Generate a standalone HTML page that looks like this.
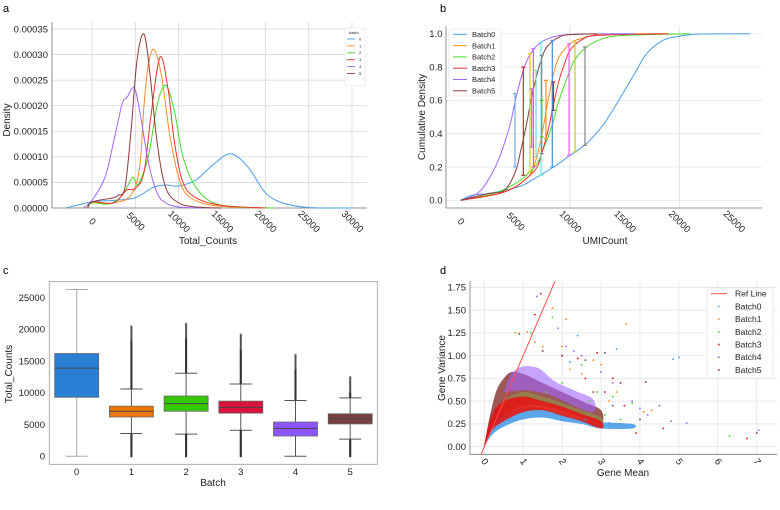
<!DOCTYPE html>
<html><head><meta charset="utf-8"><style>
body{margin:0;background:#fff;}
svg{display:block;font-family:"Liberation Sans",sans-serif;}
</style></head><body>
<svg id="fig" width="780" height="510" viewBox="0 0 780 510" xmlns="http://www.w3.org/2000/svg">
<text x="3" y="12" font-size="11">a</text>
<text x="440" y="12" font-size="11">b</text>
<text x="3" y="274" font-size="11">c</text>
<text x="440" y="274" font-size="11">d</text>
</svg>
<script>
// ---------- data ----------
var batchColors=["#4a9de8","#ff8c1a","#44dd22","#ee3333","#a066ff","#8b3a3a"];
// panel a: KDE density
var aX0=[-3000,0,2500,5000,7000,8500,10000,12000,14000,16000,18000,20000,22000,25000,30000];
var aY0=[0,1.2e-5,1.5e-5,2e-5,4e-5,4.5e-5,4.3e-5,5.5e-5,8.5e-5,1.06e-4,8e-5,3e-5,1e-5,1e-6,0];
var aX1=[-500,0,2500,4500,5500,6000,6500,7150,8000,9000,10000,11000,13000,16000,20000];
var aY1=[0,1e-5,1e-5,2.5e-5,8e-5,2e-4,2.8e-4,3.1e-4,2.6e-4,1.4e-4,6e-5,2.5e-5,8e-6,2e-6,0];
var aX2=[-500,0,2000,3500,4700,5300,6500,7500,8500,9500,10500,12000,14000,17000,21000];
var aY2=[0,1e-5,8e-6,2.5e-5,6e-5,4.5e-5,1e-4,2e-4,2.4e-4,1.9e-4,1e-4,4e-5,1e-5,2e-6,0];
var aX3=[-500,0,2500,4000,5000,6000,6800,7850,8800,9500,10500,12000,15000,20000];
var aY3=[0,1.2e-5,1e-5,3.5e-5,3.8e-5,7e-5,1.8e-4,2.95e-4,2.3e-4,1.3e-4,5e-5,2e-5,5e-6,0];
var aX4=[-1000,0,1500,2500,3500,4000,4850,5500,6500,7500,8500,10000,13000];
var aY4=[0,1.5e-5,6e-5,1.3e-4,2.05e-4,2.15e-4,2.35e-4,1.9e-4,9e-5,3e-5,1e-5,2e-6,0];
var aX5=[-500,0,2500,3000,3800,4500,5200,6000,6700,7500,8500,10000,12000,15000];
var aY5=[0,1.2e-5,2e-5,2.5e-5,4e-5,1.5e-4,2.9e-4,3.4e-4,2.6e-4,1.3e-4,4e-5,1e-5,2e-6,0];
var aXTicks=[0,5000,10000,15000,20000,25000,30000];
var aYTicks=[0,0.00005,0.0001,0.00015,0.0002,0.00025,0.0003,0.00035];
// panel b: cumulative density
var bX0=[0,1000,2500,4000,5000,6000,7000,8500,10000,11500,13000,14000,15000,16000,17000,18500,20000,22000,26500];
var bY0=[0,0.03,0.04,0.06,0.075,0.1,0.14,0.2,0.27,0.34,0.45,0.55,0.66,0.77,0.88,0.96,0.985,0.998,1];
var bX1=[0,2000,3500,5000,6000,6500,7000,7500,8000,8500,9000,10000,11000,13000,19000];
var bY1=[0,0.02,0.04,0.08,0.13,0.17,0.27,0.42,0.6,0.76,0.86,0.94,0.97,0.995,1];
var bX2=[0,3000,5000,6000,7000,7500,8000,8500,9000,10000,10500,11500,13000,15000,21000];
var bY2=[0,0.04,0.1,0.15,0.22,0.3,0.38,0.48,0.6,0.78,0.85,0.92,0.97,0.99,1];
var bX3=[0,3500,5000,6000,7000,7500,8000,8500,9000,9500,10000,11000,12500,19000];
var bY3=[0,0.04,0.08,0.13,0.2,0.3,0.42,0.58,0.72,0.82,0.9,0.96,0.99,1];
var bX4=[0,1500,2500,3500,4500,5000,5500,6000,6500,7000,8000,10000,16000];
var bY4=[0,0.04,0.12,0.25,0.45,0.6,0.73,0.83,0.89,0.93,0.97,0.995,1];
var bX5=[0,2500,4000,5000,5500,6000,6500,7000,7500,8000,9000,10000,12500];
var bY5=[0,0.04,0.06,0.17,0.3,0.45,0.62,0.76,0.87,0.93,0.98,0.995,1];
var errX=[4970,5730,6340,6490,6650,6890,7350,7410,7410,7800,8380,8480,9910,10460,11370];
var errLo=[0.2,0.15,0.17,0.32,0.2,0.26,0.15,0.28,0.38,0.37,0.2,0.54,0.27,0.29,0.33];
var errHi=[0.64,0.8,0.88,0.67,0.91,0.78,0.95,0.87,0.6,0.72,0.96,0.71,0.94,0.95,0.92];
var errCol=["#6ab0f0","#dd2222","#c8d020","#cc66ff","#dd55ee","#66e0e0","#66e8e8","#888888","#44cc22","#ff8c1a","#3a8ee8","#8b3a3a","#ee66ee","#c8c820","#888888"];
var bXTicks=[0,5000,10000,15000,20000,25000];
var bYTicks=[0,0.2,0.4,0.6,0.8,1.0];
// panel c: boxplot
var cCats=["0","1","2","3","4","5"];
var cWLo=[0,3600,3500,4100,0,2700];
var cQ1=[9300,6200,7100,6800,3200,5100];
var cMed=[13900,7100,8300,7700,4400,5900];
var cQ3=[16200,7900,9500,8700,5400,6700];
var cWHi=[26300,10600,13100,11400,8800,9200];
var cOutHiMax=[null,20600,21000,19200,16100,12500];
var cOutLoMin=[null,0,0,0,null,0];
var cColors=["#2a7fd4","#f07800","#33c800","#d9143a","#8c55ff","#7a4040"];
var cYTicks=[0,5000,10000,15000,20000,25000];
// panel d: scatter envelopes (dense clouds) and sparse points
var dEnv0X=[0,0.2,0.5,1,1.5,2,2.5,3,3.8,3.8,3,2.5,2,1.5,1,0.5,0.2,0];
var dEnv0Y=[0,0.13,0.22,0.3,0.32,0.28,0.25,0.2,0.2,0.25,0.27,0.3,0.36,0.42,0.43,0.36,0.25,0.02];
var dEnv5X=[0,0.2,0.5,1,1.5,2,2.5,3,3,2.5,2,1.5,1,0.7,0.5,0.3,0.1];
var dEnv5Y=[0,0.2,0.35,0.45,0.45,0.4,0.32,0.25,0.4,0.5,0.6,0.7,0.8,0.82,0.75,0.6,0.25];
var dEnv4X=[0.5,1,1.4,1.8,2.3,2.8,2.8,2.3,1.8,1.4,1,0.7];
var dEnv4Y=[0.6,0.62,0.6,0.55,0.45,0.38,0.52,0.62,0.72,0.86,0.88,0.8];
var dEnv2X=[0.5,1,1.5,2,2.5,3,3,2.5,2,1.5,1,0.5];
var dEnv2Y=[0.3,0.38,0.4,0.35,0.3,0.22,0.32,0.4,0.48,0.55,0.6,0.5];
var dEnv3X=[0,0.2,0.5,1,1.5,2,2.5,3,3,2.5,2,1.5,1,0.5,0.2,0];
var dEnv3Y=[0,0.18,0.28,0.38,0.4,0.34,0.28,0.2,0.28,0.36,0.44,0.5,0.55,0.5,0.35,0.03];
var dPt0X=[2.4,3.4,4.85,5.0,3.5,3.8,2.6,2.2,3.2,3.6];
var dPt0Y=[1.22,1.07,0.96,0.98,0.24,0.22,0.3,0.93,0.26,0.23];
var dPt1X=[1.75,2.1,3.65,1.1,1.3,2.8,3.0,2.2,3.2,4.1,0.8,1.5,2.5,3.4,4.3,2.0];
var dPt1Y=[1.52,1.4,1.35,1.26,1.15,0.95,0.9,0.85,0.5,0.38,1.25,1.1,0.8,0.6,0.4,1.1];
var dPt2X=[1.75,1.2,2.5,2.9,3.3,3.8,6.3,2.0,1.6,3.1,3.5,2.7];
var dPt2Y=[1.42,1.25,0.9,0.6,0.55,0.48,0.12,0.7,0.6,0.35,0.3,0.5];
var dPt3X=[1.45,1.3,2.4,2.9,3.3,4.6,6.75,3.1,2.0,3.9,2.6,3.6];
var dPt3Y=[1.68,1.45,0.97,1.03,0.75,0.2,0.09,0.6,1.0,0.15,0.75,0.45];
var dPt4X=[1.35,1.9,2.1,2.5,3.0,4.0,4.2,4.5,4.8,5.2,7.05,2.3,3.3,3.8];
var dPt4Y=[1.65,1.3,1.1,1.0,0.82,0.42,0.35,0.45,0.28,0.26,0.18,1.05,0.7,0.5];
var dPt5X=[0.9,2.0,2.6,3.1,4.15,4.0,7.0,1.5,3.5,2.8,3.3];
var dPt5Y=[1.24,1.0,0.95,1.03,0.71,0.3,0.15,1.05,0.7,0.6,0.45];
var dXTicks=[0,1,2,3,4,5,6,7];
var dYTicks=[0,0.25,0.5,0.75,1.0,1.25,1.5,1.75];
var dRefX=[-0.09,1.82];

// ---------- helpers ----------
var svg=document.getElementById('fig');
var NS="http://www.w3.org/2000/svg";
function mk(tag,attrs,parent){var e=document.createElementNS(NS,tag);for(var k in attrs)e.setAttribute(k,attrs[k]);(parent||svg).appendChild(e);return e;}
function lin(d0,d1,r0,r1){return function(v){return r0+(v-d0)*(r1-r0)/(d1-d0);};}
function smooth(pts){var d="M"+pts[0][0].toFixed(2)+","+pts[0][1].toFixed(2);
 for(var i=0;i<pts.length-1;i++){var p0=pts[i-1]||pts[i],p1=pts[i],p2=pts[i+1],p3=pts[i+2]||p2;
  var c1x=p1[0]+(p2[0]-p0[0])/6,c1y=p1[1]+(p2[1]-p0[1])/6,c2x=p2[0]-(p3[0]-p1[0])/6,c2y=p2[1]-(p3[1]-p1[1])/6;
  d+=" C"+c1x.toFixed(2)+","+c1y.toFixed(2)+" "+c2x.toFixed(2)+","+c2y.toFixed(2)+" "+p2[0].toFixed(2)+","+p2[1].toFixed(2);}
 return d;}
function txt(x,y,s,size,attrs,parent){var t=mk('text',Object.assign({x:x,y:y,'font-size':size,fill:'#222'},attrs||{}),parent);t.textContent=s;return t;}

// ---------- panel a ----------
(function(){
 var X=lin(0,30000,92,352),Y=lin(0,0.00035,208,29);
 var g=mk('g',{});
 
 
 aXTicks.forEach(function(v){var l=mk('line',{x1:X(v),x2:X(v),y1:22,y2:208,stroke:'#d3dadd','stroke-width':0.8},g);
  
  var t=txt(X(v),222,String(v),9.5,{'text-anchor':'middle',transform:'rotate(45 '+X(v)+' 222)','dominant-baseline':'middle'},g);
  });
 aYTicks.forEach(function(v){var l=mk('line',{x1:52,x2:367,y1:Y(v),y2:Y(v),stroke:'#d3dadd','stroke-width':0.8},g);
  
  var t=txt(48,Y(v)+3.3,v.toFixed(5),9.5,{'text-anchor':'end'},g);
  });
 var sp=mk('path',{d:'M52,22 V208 H367',fill:'none',stroke:'#777','stroke-width':0.8},g);
 
 var xs=[aX0,aX1,aX2,aX3,aX4,aX5],ys=[aY0,aY1,aY2,aY3,aY4,aY5];
 for(var i=0;i<6;i++){var pts=xs[i].map(function(v,j){return [X(v),Y(ys[i][j])];});
  var p=mk('path',{d:smooth(pts),fill:'none',stroke:batchColors[i],'stroke-width':1},g);
  }
 var t1=txt(208,244,'Total_Counts',10,{'text-anchor':'middle'},g);
 
 var t2=txt(10,120,'Density',10,{'text-anchor':'middle',transform:'rotate(-90 10 120)'},g);
 
 var lg=mk('g',{},g);
 
 mk('rect',{x:345,y:28,width:20,height:58,fill:'#fff',stroke:'#e0e0e0','stroke-width':0.5,rx:1},lg);
 txt(349,34,'batch',4,{},lg);
 for(var k=0;k<6;k++){var yy=39+k*6.9;
  var l=mk('line',{x1:347,x2:355,y1:yy,y2:yy,stroke:batchColors[k],'stroke-width':0.9},lg);
  
  var t=txt(359,yy+1.4,String(k),4,{},lg);}
})();

// ---------- panel b ----------
(function(){
 var X=lin(0,20000,460.7,679.3),Y=lin(0,1,200.3,33.7);
 var g=mk('g',{});
 
 
 [10000,20000].forEach(function(v){var l=mk('line',{x1:X(v),x2:X(v),y1:26,y2:208,stroke:'#d6dde0','stroke-width':0.8},g);
  });
 bYTicks.forEach(function(v){var l=mk('line',{x1:446,x2:762,y1:Y(v),y2:Y(v),stroke:'#dfe5e8','stroke-width':0.7},g);
  
  var t=txt(442.5,Y(v)+3.3,v.toFixed(1),9.5,{'text-anchor':'end'},g);
  });
 bXTicks.forEach(function(v){var t=txt(X(v),222,String(v),9.5,{'text-anchor':'middle',transform:'rotate(45 '+X(v)+' 222)','dominant-baseline':'middle'},g);
  });
 var sp=mk('path',{d:'M446,26 V208 H762',fill:'none',stroke:'#777','stroke-width':0.8},g);
 
 var xs=[bX0,bX1,bX2,bX3,bX4,bX5],ys=[bY0,bY1,bY2,bY3,bY4,bY5];
 for(var i=0;i<6;i++){var pts=xs[i].map(function(v,j){return [X(v),Y(ys[i][j])];});
  var p=mk('path',{d:smooth(pts),fill:'none',stroke:batchColors[i],'stroke-width':1},g);
  }
 for(var e=0;e<errX.length;e++){var x=X(errX[e]),y1=Y(errLo[e]),y2=Y(errHi[e]);
  var eg=mk('g',{stroke:errCol[e],'stroke-width':1.2},g);
  
  mk('line',{x1:x,x2:x,y1:y1,y2:y2},eg);mk('line',{x1:x-2,x2:x+2,y1:y1,y2:y1},eg);mk('line',{x1:x-2,x2:x+2,y1:y2,y2:y2},eg);}
 var t1=txt(605,244,'UMICount',10,{'text-anchor':'middle'},g);
 
 var t2=txt(425,117,'Cumulative Density',10,{'text-anchor':'middle',transform:'rotate(-90 425 117)'},g);
 
 var lg=mk('g',{},g);
 
 mk('rect',{x:449,y:29,width:52,height:67,fill:'#fff','fill-opacity':0.85,stroke:'#ddd','stroke-width':0.6,rx:2},lg);
 for(var k=0;k<6;k++){var yy=34.3+k*11.3;
  var l=mk('line',{x1:453,x2:467,y1:yy,y2:yy,stroke:batchColors[k],'stroke-width':1},lg);
  
  var t=txt(472,yy+2.7,'Batch'+k,7.5,{},lg);}
})();

// ---------- panel c ----------
(function(){
 var Y=lin(0,25000,456.3,297.7),X=function(i){return 76.7+i*54.7;};
 var g=mk('g',{});
 
 
 var fr=mk('rect',{x:49.3,y:281.7,width:328,height:182.6,fill:'none',stroke:'#999','stroke-width':0.8},g);
 
 cYTicks.forEach(function(v){var t=txt(45,Y(v)+3.3,String(v),9.5,{'text-anchor':'end'},g);
  });
 var bw=44;
 for(var i=0;i<6;i++){var x=X(i);
  var bg=mk('g',{},g);
  
  var wc=i==0?'#aaa':'#555';
  mk('line',{x1:x,x2:x,y1:Y(cWLo[i]),y2:Y(cQ1[i]),stroke:wc,'stroke-width':1},bg);
  mk('line',{x1:x,x2:x,y1:Y(cQ3[i]),y2:Y(cWHi[i]),stroke:wc,'stroke-width':1},bg);
  mk('line',{x1:x-bw/4,x2:x+bw/4,y1:Y(cWLo[i]),y2:Y(cWLo[i]),stroke:wc,'stroke-width':1},bg);
  mk('line',{x1:x-bw/4,x2:x+bw/4,y1:Y(cWHi[i]),y2:Y(cWHi[i]),stroke:wc,'stroke-width':1},bg);
  if(cOutHiMax[i]!==null){for(var v=cWHi[i]+150;v<=cOutHiMax[i];v+=150){mk('circle',{cx:x,cy:Y(v),r:1.1,fill:'#333','fill-opacity':v>cOutHiMax[i]-2500?0.6:0.95},bg);}}
  if(cOutLoMin[i]!==null){for(var v2=cOutLoMin[i];v2<cWLo[i];v2+=150){mk('circle',{cx:x,cy:Y(v2),r:1.1,fill:'#333'},bg);}}
  mk('rect',{x:x-bw/2,y:Y(cQ3[i]),width:bw,height:Y(cQ1[i])-Y(cQ3[i]),fill:cColors[i],stroke:'#666','stroke-width':0.8},bg);
  mk('line',{x1:x-bw/2,x2:x+bw/2,y1:Y(cMed[i]),y2:Y(cMed[i]),stroke:'#444','stroke-width':1},bg);
  var t=txt(x,475,cCats[i],9.5,{'text-anchor':'middle'},g);
  }
 var t1=txt(213,486,'Batch',10,{'text-anchor':'middle'},g);
 
 var t2=txt(12,374,'Total_Counts',10,{'text-anchor':'middle',transform:'rotate(-90 12 374)'},g);
 
})();

// ---------- panel d ----------
(function(){
 var X=lin(0,7,484.3,756.7),Y=lin(0,1.75,446.7,287.3);
 var g=mk('g',{});
 
 
 var cp=mk('clipPath',{id:'dclip'},g);mk('rect',{x:470,y:281,width:308,height:173.3},cp);
 dXTicks.forEach(function(v){var l=mk('line',{x1:X(v),x2:X(v),y1:281,y2:454.3,stroke:'#dfe5e8','stroke-width':0.8},g);
  
  var t=txt(X(v),462,String(v),9.5,{'text-anchor':'middle','dominant-baseline':'middle',transform:'rotate(55 '+X(v)+' 462)'},g);
  });
 dYTicks.forEach(function(v){var l=mk('line',{x1:470,x2:777,y1:Y(v),y2:Y(v),stroke:'#dfe5e8','stroke-width':0.8},g);
  
  var t=txt(466,Y(v)+3.3,v.toFixed(2),9.5,{'text-anchor':'end'},g);
  });
 var sp=mk('path',{d:'M470,281 V454.3 H777',fill:'none',stroke:'#777','stroke-width':0.8},g);
 
 var pg=mk('g',{'clip-path':'url(#dclip)'},g);
 function env(xs,ys,col,op,name){var pts=xs.map(function(v,j){return [X(v),Y(ys[j])];});
  pts.push(pts[0]);
  var p=mk('path',{d:smooth(pts)+'Z',fill:col,'fill-opacity':op,stroke:'none'},pg);
  }
 env(dEnv0X,dEnv0Y,batchColors[0],0.9,'cloud-batch0');
 env(dEnv5X,dEnv5Y,batchColors[5],0.85,'cloud-batch5');
 env(dEnv4X,dEnv4Y,batchColors[4],0.6,'cloud-batch4');
 env(dEnv2X,dEnv2Y,'#8ab040',0.45,'cloud-batch2');
 env(dEnv3X,dEnv3Y,'#e81010',0.85,'cloud-batch3');
 var pxs=[dPt0X,dPt1X,dPt2X,dPt3X,dPt4X,dPt5X],pys=[dPt0Y,dPt1Y,dPt2Y,dPt3Y,dPt4Y,dPt5Y];
 for(var i=0;i<6;i++){for(var j=0;j<pxs[i].length;j++){
  var c=mk('rect',{x:X(pxs[i][j])-0.8,y:Y(pys[i][j])-0.8,width:1.6,height:1.6,fill:i==3?'#e81010':batchColors[i]},pg);
  }}
 var rl=mk('line',{x1:X(dRefX[0]),y1:Y(dRefX[0]),x2:X(dRefX[1]),y2:Y(dRefX[1]),stroke:'#ff4d4d','stroke-width':1},pg);
 
 var t1=txt(623,476,'Gene Mean',10,{'text-anchor':'middle'},g);
 
 var t2=txt(445,368,'Gene Variance',10,{'text-anchor':'middle',transform:'rotate(-90 445 368)'},g);
 
 var lg=mk('g',{},g);
 
 mk('rect',{x:707,y:288,width:66,height:90,fill:'#fff','fill-opacity':0.9,stroke:'#ddd','stroke-width':0.6,rx:2},lg);
 var names=['Ref Line','Batch0','Batch1','Batch2','Batch3','Batch4','Batch5'];
 for(var k=0;k<7;k++){var yy=293.7+k*12.7;
  if(k==0){var l=mk('line',{x1:711,x2:727,y1:yy,y2:yy,stroke:'#ff4d4d','stroke-width':1},lg);
   }
  else{var s=mk('rect',{x:718,y:yy-0.8,width:1.6,height:1.6,fill:k==4?'#e81010':batchColors[k-1]},lg);
   }
  var t=txt(735,yy+3,names[k],8.5,{},lg);}
})();
</script>
</body></html>
